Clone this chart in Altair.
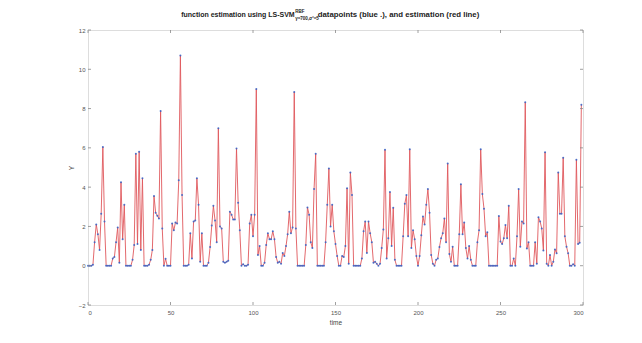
import altair as alt
import pandas as pd

# ---- data ----
values = [
    0, 0, 0, 0.05, 1.2, 2.1, 1.6, 0.8, 2.65, 6.05,
    2.25, 0, 0, 0, 0, 0.37, 0.45, 1.2, 1.95, 0.15,
    4.25, 1.35, 3.1, 0, 0, 0, 0, 0.3, 1.05, 5.7,
    1.1, 5.8, 0.8, 4.45, 0, 0, 0, 0.05, 0.3, 0.8,
    3.55, 2.7, 2.55, 2.4, 7.88, 1.9, 0, 0.35, 0, 0,
    0, 2.15, 1.8, 2.2, 2.15, 4.35, 10.7, 3.6, 0, 0,
    0, 0.05, 1.65, 0.37, 2.25, 2.3, 4.45, 3.1, 0.2, 1.65,
    0, 0, 0, 0.15, 0.95, 2.05, 3.05, 2.3, 1.2, 7.0,
    2.0, 1.9, 0.2, 0.15, 0.2, 0.25, 2.75, 2.6, 2.35, 2.35,
    5.97, 3.2, 1.8, 0, 0.08, 0, 0, 0.05, 2.15, 2.6,
    1.5, 2.6, 9.0, 0.55, 1.0, 0, 0, 0.15, 1.05, 1.65,
    1.35, 1.35, 1.75, 1.35, 0.45, 0.15, 0.2, 0.1, 0.65, 0.5,
    1.0, 1.6, 2.75, 1.65, 1.95, 8.85, 1.9, 0, 0, 0,
    0, 0, 1.05, 2.97, 2.6, 1.2, 0.9, 3.9, 5.7, 0,
    0, 0, 0, 0, 1.2, 3.1, 4.95, 2.0, 3.1, 1.75,
    1.1, 0.5, 0, 0, 0.5, 0.45, 1.0, 3.95, 0.1, 4.75,
    3.6, 0, 0, 0, 0, 0, 0.37, 1.75, 2.25, 0.65,
    2.25, 1.65, 1.2, 0.15, 0.2, 0.1, 0, 0.1, 0.9, 1.85,
    5.9, 0.37, 1.4, 3.75, 1.0, 2.95, 0.3, 0, 0, 0,
    0, 1.5, 3.15, 3.6, 1.5, 5.93, 0.9, 1.8, 1.35, 0.5,
    0, 0.5, 1.55, 2.5, 2.1, 3.1, 3.9, 2.7, 0.55, 0.1,
    0, 0.3, 0.37, 0.95, 1.4, 1.65, 2.4, 1.2, 5.2, 0.6,
    0.2, 0.97, 0, 0, 0, 1.6, 4.15, 1.6, 2.2, 0.9,
    0.37, 1.0, 0.3, 0, 0, 0, 1.2, 1.8, 5.93, 3.65,
    2.9, 1.5, 1.7, 0, 0, 0, 0, 0, 0, 2.53,
    1.23, 1.1, 1.4, 2.07, 1.4, 3.05, 0, 0, 0.37, 0,
    1.5, 3.9, 0.97, 2.25, 2.15, 8.32, 0.88, 1.2, 0, 0,
    0, 1.2, 0.1, 2.47, 2.25, 1.9, 0.77, 5.78, 0.1, 0,
    0.55, 0, 0.2, 0.83, 0.63, 4.75, 2.65, 2.65, 5.5, 1.5,
    0.97, 0.63, 0, 0, 0.08, 0, 5.4, 1.1, 1.17, 8.2,
]
times = list(range(len(values)))

x_ticks = [0, 50, 100, 150, 200, 250, 300]
y_ticks = [-2, 0, 2, 4, 6, 8, 10, 12]

title_main_left = ["function estimation using  LS-SVM"]
title_sup = ["RBF"]
title_sub = ["\u03b3=700,\u03c3\u00b2=5"]
title_main_right = ["datapoints (blue .), and estimation  (red line)"]

W, H = 495, 275
FONT = "Liberation Sans"

df = pd.DataFrame({"t": times, "v": values})
dx = pd.DataFrame({"t": x_ticks})
dy = pd.DataFrame({"v": y_ticks})

xscale = alt.Scale(domain=[0, 300], nice=False, zero=False)
yscale = alt.Scale(domain=[-2, 12], nice=False, zero=False)

x_axis = alt.Axis(values=x_ticks, title="time", grid=False, domain=False,
                  ticks=False, labelPadding=4, labelFontSize=6,
                  labelColor="#555", labelFont=FONT, titleFont=FONT,
                  titleFontSize=6.5, titleFontWeight="normal",
                  titleColor="#444", titlePadding=4)
y_axis = alt.Axis(values=y_ticks, title="Y", grid=False, domain=False,
                  ticks=False, labelPadding=3, labelFontSize=6,
                  labelColor="#555", labelFont=FONT, titleFont=FONT,
                  titleFontSize=6.5, titleFontWeight="normal",
                  titleColor="#444", titlePadding=4)

base = alt.Chart(df)

line = base.mark_line(color="#e0585c", strokeWidth=0.9).encode(
    x=alt.X("t:Q", scale=xscale, axis=x_axis),
    y=alt.Y("v:Q", scale=yscale, axis=y_axis),
)

points = base.mark_circle(color="#3060c8", size=4, opacity=0.85).encode(
    x=alt.X("t:Q", scale=xscale, axis=x_axis),
    y=alt.Y("v:Q", scale=yscale, axis=y_axis),
)

tick_color = "#888"
bottom_ticks = alt.Chart(dx).mark_rule(color=tick_color, strokeWidth=0.8).encode(
    x=alt.X("t:Q", scale=xscale, axis=x_axis), y=alt.value(H), y2=alt.value(H - 3))
top_ticks = alt.Chart(dx).mark_rule(color=tick_color, strokeWidth=0.8).encode(
    x=alt.X("t:Q", scale=xscale, axis=x_axis), y=alt.value(0), y2=alt.value(3))
left_ticks = alt.Chart(dy).mark_rule(color=tick_color, strokeWidth=0.8).encode(
    y=alt.Y("v:Q", scale=yscale, axis=y_axis), x=alt.value(0), x2=alt.value(3))
right_ticks = alt.Chart(dy).mark_rule(color=tick_color, strokeWidth=0.8).encode(
    y=alt.Y("v:Q", scale=yscale, axis=y_axis), x=alt.value(W), x2=alt.value(W - 3))

split_x = 295 - 88.3

t1 = alt.Chart(pd.DataFrame({"s": title_main_left})).mark_text(
    align="right", baseline="alphabetic", font=FONT, fontSize=7, fontWeight="bold",
    color="#222").encode(text="s:N", x=alt.value(split_x), y=alt.value(-13))
t2 = alt.Chart(pd.DataFrame({"s": title_sup})).mark_text(
    align="left", baseline="alphabetic", font=FONT, fontSize=4.5, fontWeight="bold",
    color="#222").encode(text="s:N", x=alt.value(split_x + 0.5), y=alt.value(-17))
t3 = alt.Chart(pd.DataFrame({"s": title_sub})).mark_text(
    align="left", baseline="alphabetic", font=FONT, fontSize=4.5, fontWeight="bold",
    color="#222").encode(text="s:N", x=alt.value(split_x + 0.5), y=alt.value(-10))
t4 = alt.Chart(pd.DataFrame({"s": title_main_right})).mark_text(
    align="left", baseline="alphabetic", font=FONT, fontSize=7.8, fontWeight="bold",
    color="#222").encode(text="s:N", x=alt.value(318 - 88.3), y=alt.value(-13))

chart = alt.layer(
    line, points, bottom_ticks, top_ticks, left_ticks, right_ticks, t1, t2, t3, t4
).properties(
    width=W, height=H,
    padding={"left": 80, "top": 22, "right": 51, "bottom": 22},
    autosize=alt.AutoSizeParams(type="none"),
).configure_view(
    stroke="#999", strokeWidth=1
).configure(background="white")

chart.save("out.html", embed_options={"renderer": "svg", "actions": False})
